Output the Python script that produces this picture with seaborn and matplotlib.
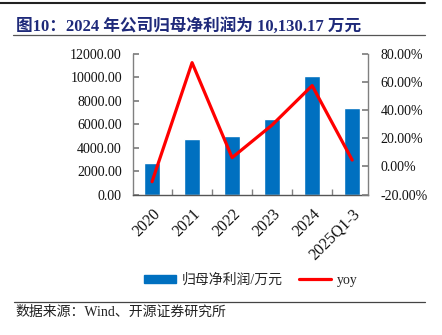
import matplotlib
matplotlib.use("Agg")
import matplotlib.pyplot as plt
import seaborn as sns
import numpy as np
import pandas as pd
from matplotlib.ticker import FuncFormatter, FixedLocator
from matplotlib.lines import Line2D
from matplotlib.patches import Patch

categories = ["2020", "2021", "2022", "2023", "2024", "2025Q1-3"]
profit = [2680, 4725, 5005, 6430, 10130.17, 7395]
yoy = [-10.8, 73.8, 6.3, 29.5, 57.5, 4.6]
left_ticks = [0, 2000, 4000, 6000, 8000, 10000, 12000]
right_ticks = [-20, 0, 20, 40, 60, 80]

sns.set_theme(style="white")
plt.rcParams['font.family'] = ['Liberation Serif', 'Noto Sans CJK SC', 'DejaVu Sans']

BLUE = "#0070C0"
RED = "#FF0000"
GREY = "#808080"
NAVY = "#1F2A7A"

fig = plt.figure(figsize=(4.42, 3.35), dpi=100)
ax = fig.add_axes([0.301, 0.419, 0.532, 0.420])

df = pd.DataFrame({"cat": categories, "profit": profit, "yoy": yoy})
sns.barplot(data=df, x="cat", y="profit", color=BLUE, width=0.4, ax=ax, saturation=1)
ax.set_xlim(-0.475, 5.4)
ax.set_ylim(0, 12000)
ax.set_yticks(left_ticks)
ax.yaxis.set_major_formatter(FuncFormatter(lambda v, p: f"{v:.2f}"))
ax.set_xlabel("")
ax.set_ylabel("")

ax2 = ax.twinx()
sns.lineplot(data=df, x="cat", y="yoy", color=RED, linewidth=2.3, ax=ax2, sort=False)
ax2.set_ylim(-20, 80)
ax2.set_yticks(right_ticks)
ax2.yaxis.set_major_formatter(FuncFormatter(lambda v, p: f"{v:.2f}%"))
ax2.set_ylabel("")
ax2.set_xlim(-0.475, 5.4)

for a in (ax, ax2):
    for s in a.spines.values():
        s.set_color(GREY)
        s.set_linewidth(1.0)
    a.spines["top"].set_visible(False)

ax.spines["right"].set_visible(False)
ax2.spines["left"].set_visible(False)
ax2.spines["bottom"].set_visible(False)
ax.spines["bottom"].set_color("#555555")

ax.tick_params(axis="y", direction="in", length=4, color=GREY, labelsize=10, labelcolor="#111111", pad=8, left=True)
ax2.tick_params(axis="y", direction="in", length=4, color=GREY, labelsize=10, labelcolor="#111111", pad=9, right=True)
ax.tick_params(axis="x", which="major", length=0, labelsize=11.5, labelcolor="#111111", pad=8)
ax.xaxis.set_minor_locator(FixedLocator([0.5, 1.5, 2.5, 3.5, 4.5]))
ax.tick_params(axis="x", which="minor", direction="in", length=4, color=GREY, bottom=True)
for lbl in ax.get_xticklabels():
    lbl.set_rotation(45)
    lbl.set_ha("right")
    lbl.set_rotation_mode("anchor")

# Title and rules
fig.add_artist(Line2D([0.0, 0.962], [0.992, 0.992], color="#222222", linewidth=1.5))
fig.text(0.036, 0.922, "图10：2024 年公司归母净利润为 10,130.17 万元", fontsize=12,
         fontweight="bold", color=NAVY, va="center", ha="left",
         family=['Liberation Serif', 'Noto Sans CJK SC'])
fig.add_artist(Line2D([0.03, 0.962], [0.897, 0.897], color="#555555", linewidth=0.9))

handles = [Patch(facecolor=BLUE, edgecolor=BLUE), Line2D([0], [0], color=RED, linewidth=2.3)]
fig.legend(handles, ["归母净利润/万元", "yoy"], loc="center", bbox_to_anchor=(0.568, 0.164),
           ncol=2, frameon=False, fontsize=10, handlelength=2.3, handleheight=0.5,
           columnspacing=1.2, handletextpad=0.4)

fig.add_artist(Line2D([0.032, 0.962], [0.099, 0.099], color="#444444", linewidth=0.9))
fig.text(0.036, 0.069, "数据来源：Wind、开源证券研究所", fontsize=10, color="#222222",
         va="center", ha="left")

fig.savefig("out.png", dpi=100)
